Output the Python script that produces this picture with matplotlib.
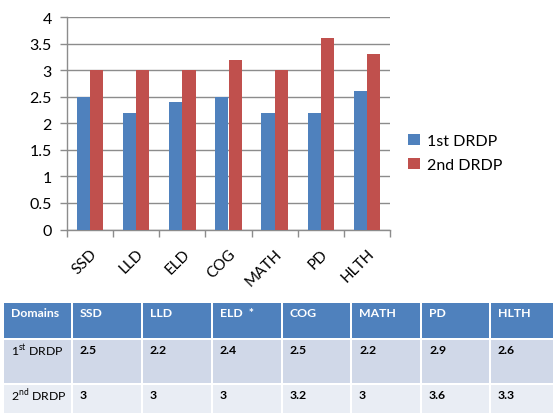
import matplotlib
matplotlib.use("Agg")
import matplotlib.pyplot as plt
from matplotlib.patches import Rectangle
import numpy as np

# Domain scores for the two DRDP assessments
domains = ["SSD", "LLD", "ELD", "COG", "MATH", "PD", "HLTH"]
first_drdp = [2.5, 2.2, 2.4, 2.5, 2.2, 2.2, 2.6]
second_drdp = [3.0, 3.0, 3.0, 3.2, 3.0, 3.6, 3.3]
series_names = ["1st DRDP", "2nd DRDP"]
y_ticks = [0, 0.5, 1, 1.5, 2, 2.5, 3, 3.5, 4]
y_tick_labels = ["0", "0.5", "1", "1.5", "2", "2.5", "3", "3.5", "4"]

# Summary table below the chart
table_header = ["Domains", "SSD", "LLD", "ELD  *", "COG", "MATH", "PD", "HLTH"]
table_row_labels = [r"1$^{\mathrm{st}}$ DRDP", r"2$^{\mathrm{nd}}$ DRDP"]
table_first = ["2.5", "2.2", "2.4", "2.5", "2.2", "2.9", "2.6"]
table_second = ["3", "3", "3", "3.2", "3", "3.6", "3.3"]

BLUE = "#4F81BD"
RED = "#C0504D"
GRID = "#8C8C8C"
FONT = ["Lato", "DejaVu Sans"]

plt.rcParams["font.family"] = FONT
plt.rcParams["mathtext.fontset"] = "custom"
plt.rcParams["mathtext.rm"] = "Lato"
plt.rcParams["mathtext.bf"] = "Lato:bold"

W, H = 553, 414
fig = plt.figure(figsize=(W / 100, H / 100), dpi=100)

# ---- bar chart ----
ax = fig.add_axes([67 / W, 1 - 230.5 / H, 323 / W, 212.5 / H])
x = np.arange(len(domains))
bw = 1 / 3.5
ax.bar(x - bw / 2, first_drdp, width=bw, color=BLUE, label=series_names[0], zorder=3)
ax.bar(x + bw / 2, second_drdp, width=bw, color=RED, label=series_names[1], zorder=3)

ax.set_xlim(-0.5, len(domains) - 0.5)
ax.set_ylim(0, 4)
ax.set_yticks(y_ticks)
ax.set_yticklabels(y_tick_labels, fontsize=11.5, color="#000000")
ax.yaxis.grid(True, color=GRID, linewidth=1.0, zorder=0)
ax.tick_params(axis="y", length=5, width=1, color=GRID, pad=6)

ax.set_xticks(np.arange(len(domains) + 1) - 0.5, minor=False)
ax.set_xticklabels([])
ax.tick_params(axis="x", which="major", length=5, width=1, color=GRID)
ax.set_xticks(x, minor=True)
ax.set_xticklabels(domains, minor=True, rotation=45, ha="right", va="top",
                   rotation_mode="anchor", fontsize=11)
ax.tick_params(axis="x", which="minor", length=0, pad=12)

for side in ["top", "right"]:
    ax.spines[side].set_visible(False)
for side in ["left", "bottom"]:
    ax.spines[side].set_color(GRID)
    ax.spines[side].set_linewidth(1)

ax.legend(loc="center left", bbox_to_anchor=(402 / W, 1 - 154 / H),
          bbox_transform=fig.transFigure, frameon=False, fontsize=11.5,
          handlelength=0.75, handleheight=0.75, handletextpad=0.4,
          labelspacing=0.6, borderaxespad=0)

# ---- table ----
tax = fig.add_axes([0, 0, 1, 1])
tax.set_xlim(0, W)
tax.set_ylim(H, 0)
tax.axis("off")

col_edges = [4, 72, 142, 212, 282, 351, 421, 490, 560]
row_edges = [(304, 339, BLUE), (341, 384, "#D0D8E8"), (386, 432, "#E9EDF4")]
text_y = [314, 351, 396]

rows_text = [table_header,
             [table_row_labels[0]] + table_first,
             [table_row_labels[1]] + table_second]

for r, (y0, y1, color) in enumerate(row_edges):
    for c in range(len(col_edges) - 1):
        x0 = col_edges[c] + (0 if c == 0 else 1)
        x1 = col_edges[c + 1] - 1
        tax.add_patch(Rectangle((x0, y0), x1 - x0, y1 - y0, facecolor=color,
                                edgecolor="none"))
        label = rows_text[r][c]
        if r == 0:
            tax.text(x0 + 7, text_y[r], label, color="white", fontsize=8.8,
                     fontweight="bold", va="center", ha="left")
        elif c == 0:
            tax.text(x0 + 7, text_y[r], label, color="black", fontsize=8.8,
                     va="center", ha="left")
        else:
            tax.text(x0 + 7, text_y[r], label, color="black", fontsize=8.8,
                     fontweight="bold", va="center", ha="left")

fig.savefig("out.png", dpi=100)
